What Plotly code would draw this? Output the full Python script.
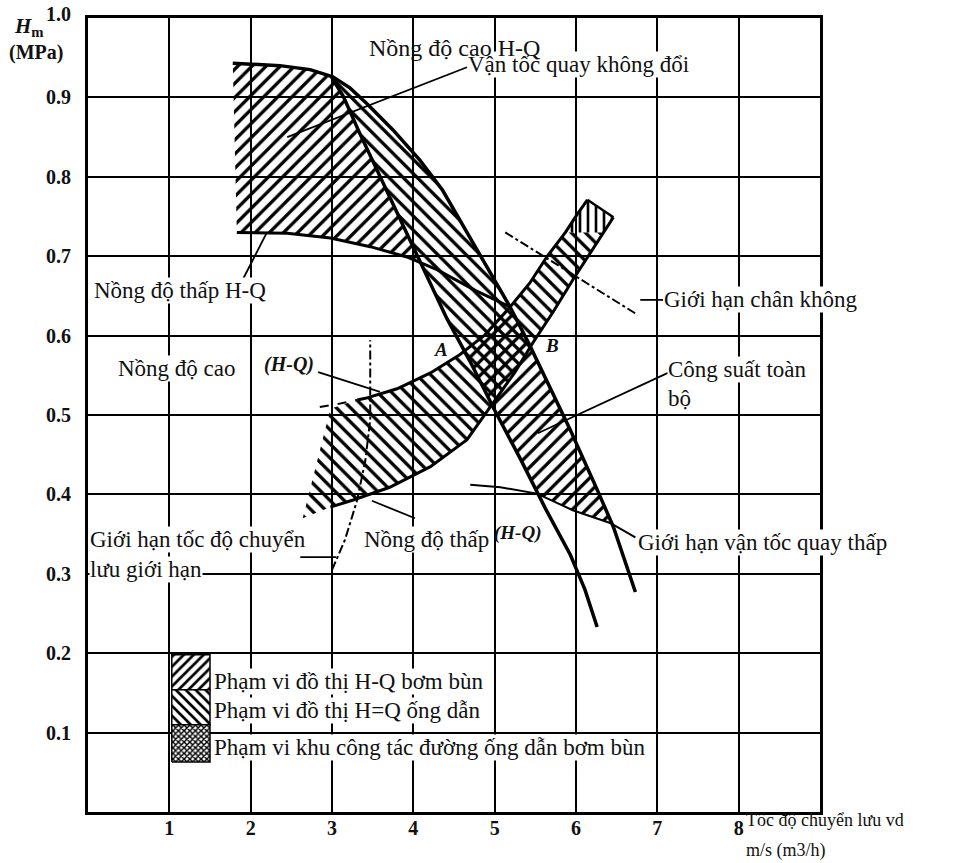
import plotly.graph_objects as go

# ---------------- data (x: flow velocity m/s, y: head MPa) ----------------
x_ticks = [1, 2, 3, 4, 5, 6, 7, 8]
x_tick_text = ["1", "2", "3", "4", "5", "6", "7", "8"]
y_ticks = [0.1, 0.2, 0.3, 0.4, 0.5, 0.6, 0.7, 0.8, 0.9]
y_tick_text = ["0.1", "0.2", "0.3", "0.4", "0.5", "0.6", "0.7", "0.8", "0.9"]
y_top_label = "1.0"

# pump H-Q, high concentration (top curve turning into the outer descending curve)
outer_x = [1.78, 2.36, 2.73, 3.01, 3.22, 3.43, 3.75, 4.08, 4.36, 4.78, 5.19, 5.43, 5.64, 5.93, 6.26, 6.46, 6.73]
outer_y = [0.943, 0.940, 0.935, 0.926, 0.912, 0.892, 0.859, 0.821, 0.783, 0.708, 0.636, 0.588, 0.544, 0.481, 0.406, 0.359, 0.277]
# constant-speed curve (inner, steeper)
inner_x = [2.98, 3.14, 3.34, 3.59, 3.84, 4.12, 4.41, 4.70, 5.00, 5.31, 5.62, 5.93, 6.11, 6.26]
inner_y = [0.928, 0.901, 0.855, 0.800, 0.746, 0.685, 0.622, 0.567, 0.506, 0.446, 0.383, 0.324, 0.280, 0.233]
# pump H-Q, low concentration
low_x = [1.83, 2.45, 2.98, 3.47, 3.92, 4.29, 4.76, 5.19]
low_y = [0.730, 0.729, 0.723, 0.712, 0.699, 0.683, 0.657, 0.636]
# pipeline H-Q band: upper edge (high concentration) and lower edge (low concentration)
pu_x = [2.85, 3.08, 3.31, 3.41, 3.80, 4.21, 4.57, 4.88, 5.19, 5.43, 5.64, 5.87, 6.01, 6.14]
pu_y = [0.510, 0.514, 0.519, 0.521, 0.533, 0.553, 0.576, 0.601, 0.636, 0.666, 0.699, 0.730, 0.752, 0.771]
pl_x = [2.98, 3.26, 3.71, 4.21, 4.66, 4.98, 5.25, 5.47, 5.72, 5.96, 6.21, 6.46]
pl_y = [0.384, 0.393, 0.409, 0.435, 0.469, 0.515, 0.554, 0.591, 0.630, 0.670, 0.710, 0.749]
cap_x = [6.14, 6.46]
cap_y = [0.771, 0.749]
# limits
lowspeed_x = [4.70, 5.07, 5.52, 5.96, 6.42, 6.73]
lowspeed_y = [0.412, 0.409, 0.401, 0.380, 0.364, 0.346]
crit_x = [3.00, 3.16, 3.31, 3.41, 3.47, 3.47]
crit_y = [0.305, 0.343, 0.393, 0.443, 0.494, 0.594]
vac_x = [5.13, 6.76]
vac_y = [0.730, 0.626]

# hatched regions
p1_x = [1.78, 2.36, 2.73, 2.98, 3.14, 3.34, 3.59, 3.84, 4.08, 3.92, 3.47, 2.98, 2.45, 1.83]
p1_y = [0.943, 0.940, 0.935, 0.928, 0.901, 0.855, 0.800, 0.746, 0.693, 0.699, 0.712, 0.723, 0.729, 0.730]
p2_x = [3.01, 3.22, 3.43, 3.75, 4.08, 4.36, 4.78, 5.19, 4.88, 4.63, 4.41, 4.12, 3.84, 3.59, 3.34, 3.14, 2.98]
p2_y = [0.926, 0.912, 0.892, 0.859, 0.821, 0.783, 0.708, 0.636, 0.601, 0.580, 0.622, 0.685, 0.746, 0.800, 0.855, 0.901, 0.928]
p3_x = [4.97, 5.25, 5.45, 5.64, 5.93, 6.26, 6.44, 5.96, 5.53, 5.31, 5.00, 4.97]
p3_y = [0.513, 0.554, 0.586, 0.544, 0.481, 0.406, 0.363, 0.380, 0.400, 0.446, 0.506, 0.513]
pipe_x = [2.98, 3.22, 3.41, 3.80, 4.21, 4.57, 4.88, 5.19, 5.43, 5.64, 5.87, 6.33, 6.21, 5.96, 5.72, 5.47, 5.25, 4.98, 4.66, 4.21, 3.71, 3.26, 2.98, 2.64]
pipe_y = [0.508, 0.516, 0.521, 0.533, 0.553, 0.576, 0.601, 0.636, 0.666, 0.699, 0.730, 0.730, 0.710, 0.670, 0.630, 0.591, 0.554, 0.515, 0.469, 0.435, 0.409, 0.393, 0.384, 0.370]
top_x = [5.87, 6.01, 6.14, 6.46, 6.33, 5.87]
top_y = [0.730, 0.752, 0.771, 0.749, 0.730, 0.730]
cross_x = [5.19, 5.45, 5.25, 4.97, 4.70, 4.63, 4.88, 5.19]
cross_y = [0.636, 0.586, 0.554, 0.513, 0.567, 0.580, 0.601, 0.636]

# leader lines
leaders = {
    "const": ([4.66, 2.45], [0.938, 0.850]),
    "lowHQ": ([2.20, 1.87], [0.730, 0.664]),
    "highpipe": ([2.83, 3.59], [0.554, 0.529]),
    "lowpipe": ([3.49, 4.02], [0.392, 0.370]),
    "crit": ([2.61, 3.05], [0.321, 0.321]),
    "vac": ([6.79, 7.07], [0.645, 0.645]),
    "power": ([7.13, 5.53], [0.553, 0.477]),
}

# legend swatches
sw_x = [1.03, 1.50]
sw_y = [0.198, 0.154, 0.110, 0.063]
legend_labels = ["Phạm vi đồ thị H-Q bơm bùn", "Phạm vi đồ thị H=Q ống dẫn",
                 "Phạm vi khu công tác đường ống dẫn bơm bùn"]
legend_text_y = [0.164, 0.128, 0.081]
legend_shapes = ["/", "\\", "x"]

SERIF = "Liberation Serif"
INK = "#111111"

fig = go.Figure()


def region(xs, ys, shape, size=10, bg="rgba(0,0,0,0)", solidity=0.3, border=0):
    fig.add_trace(go.Scatter(
        x=xs, y=ys, mode="lines", fill="toself",
        line=dict(width=border, color="black"),
        fillcolor="rgba(0,0,0,0)",
        fillpattern=dict(shape=shape, fgcolor="black", bgcolor=bg, size=size,
                         solidity=solidity, fillmode="replace"),
        hoverinfo="skip", showlegend=False))


def line(xs, ys, width=3, dash="solid"):
    fig.add_trace(go.Scatter(x=xs, y=ys, mode="lines",
                             line=dict(color="black", width=width, dash=dash),
                             hoverinfo="skip", showlegend=False))


# hatched areas
region(p1_x, p1_y, "/", 10, solidity=0.33)
region(p2_x, p2_y, "\\", 10, solidity=0.33)
region(p3_x, p3_y, "/", 10, solidity=0.33)
region(pipe_x, pipe_y, "\\", 10, solidity=0.33)
region(top_x, top_y, "|", 8, solidity=0.33)
region(cross_x, cross_y, "/", 10, solidity=0.33)

# curves
line(outer_x, outer_y, 3.5)
line(inner_x, inner_y, 3.5)
line(low_x, low_y, 3)
line(pu_x[:3], pu_y[:3], 2, "dash")
line(pu_x[2:], pu_y[2:], 3)
line(pl_x, pl_y, 3)
line(cap_x, cap_y, 2.5)
line(lowspeed_x, lowspeed_y, 2)
line(crit_x, crit_y, 2, "dashdot")
line(vac_x, vac_y, 2, "dashdot")
for k, (lx, ly) in leaders.items():
    line(lx, ly, 1.8)

# legend swatches
for i, shp in enumerate(legend_shapes):
    y0, y1 = sw_y[i + 1], sw_y[i]
    region([sw_x[0], sw_x[1], sw_x[1], sw_x[0], sw_x[0]], [y0, y0, y1, y1, y0],
           shp, 7 if i < 2 else 4, bg="white", solidity=0.38 if i < 2 else 0.6, border=1.5)

annots = []


def text(x, y, s, size=23, xanchor="left", bold=False, italic=False, bg="white",
         yanchor="middle", xref="x", yref="y"):
    if italic:
        s = "<i>" + s + "</i>"
    annots.append(dict(x=x, y=y, xref=xref, yref=yref, text=s, showarrow=False,
                       xanchor=xanchor, yanchor=yanchor, bgcolor=bg, borderpad=0,
                       font=dict(family=SERIF, size=size, color=INK,
                                 weight="bold" if bold else "normal")))


text(4.66, 0.941, "Vận tốc quay không đổi")
text(3.443, 0.962, "Nồng độ cao H-Q", size=24, bg="rgba(0,0,0,0)")
text(0.06, 0.657, "Nồng độ thấp H-Q")
text(0.357, 0.559, "Nồng độ cao")
text(2.15, 0.563, "(H-Q)", size=20, bold=True, italic=True, bg="rgba(0,0,0,0)")
text(4.34, 0.582, "A", size=19, xanchor="center", bold=True, italic=True, bg="rgba(0,0,0,0)")
text(5.71, 0.587, "B", size=19, xanchor="center", bold=True, italic=True, bg="rgba(0,0,0,0)")
text(7.07, 0.645, "Giới hạn chân không")
text(7.12, 0.557, "Công suất toàn")
text(7.12, 0.521, "bộ")
text(0.015, 0.343, "Giới hạn tốc độ chuyển")
text(0.015, 0.305, "lưu giới hạn")
text(3.38, 0.343, "Nồng độ thấp")
text(4.98, 0.351, "(H-Q)", size=19, bold=True, italic=True, bg="rgba(0,0,0,0)")
text(6.75, 0.340, "Giới hạn vận tốc quay thấp")
for lab, ym in zip(legend_labels, legend_text_y):
    text(1.54, ym, lab)

# texts outside the plotting area (paper coordinates)
text(0.8975, -0.0101, "Tốc độ chuyển lưu vd", size=18, bg="rgba(0,0,0,0)", xref="paper", yref="paper")
text(0.8975, -0.0479, "m/s (m3/h)", size=18, bg="rgba(0,0,0,0)", xref="paper", yref="paper")
text(-0.1025, 0.9887, "<i>H</i><sub>m</sub>", size=21, bold=True, bg="rgba(0,0,0,0)", xref="paper", yref="paper")
text(-0.109, 0.957, "(MPa)", size=20, bold=True, bg="rgba(0,0,0,0)", xref="paper", yref="paper")
text(-0.0218, 1.0045, y_top_label, size=20, xanchor="right", bold=True, bg="rgba(0,0,0,0)",
     xref="paper", yref="paper")

fig.update_layout(
    width=973, height=863,
    margin=dict(l=88, r=153, t=18, b=51),
    paper_bgcolor="white", plot_bgcolor="white",
    annotations=annots,
    xaxis=dict(range=[0, 9], tickvals=x_ticks, ticktext=x_tick_text,
               showgrid=True, gridcolor="black", gridwidth=2, zeroline=False,
               showline=True, linecolor="black", linewidth=3, mirror=True,
               ticks="", ticklabelstandoff=-4,
               tickfont=dict(family=SERIF, size=20, color=INK, weight="bold")),
    yaxis=dict(range=[0, 1.0], tickvals=y_ticks, ticktext=y_tick_text,
               showgrid=True, gridcolor="black", gridwidth=2, zeroline=False,
               showline=True, linecolor="black", linewidth=3, mirror=True,
               ticks="", ticklabelstandoff=10,
               tickfont=dict(family=SERIF, size=20, color=INK, weight="bold")),
    showlegend=False,
)

fig.write_html("out.html", config={"displayModeBar": False},
               post_script="document.body.style.margin='0';")
